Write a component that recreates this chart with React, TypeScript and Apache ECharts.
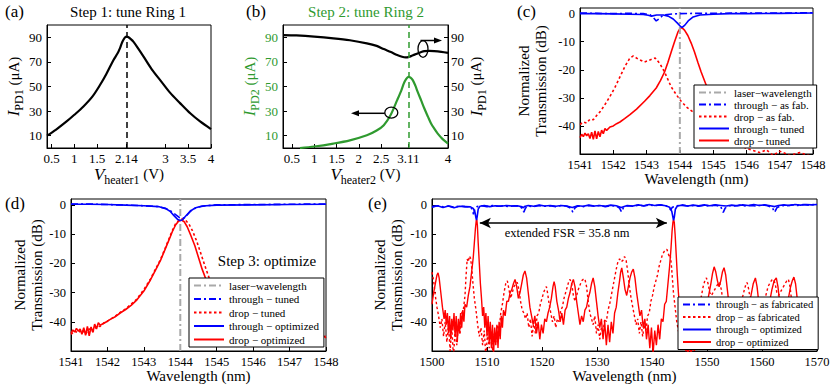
import React, { useEffect, useRef } from "react";
import * as echarts from "echarts";

const FONT = "Liberation Serif, Times New Roman, serif";
const RED = "#ff0000";
const BLUE = "#0000ff";
const GREEN = "#2f9a2f";
const GRAY = "#a9a9a9";

// ---------- (a) Step 1 ----------
const aVoltage = [0.4, 0.6, 0.83, 1.0, 1.2, 1.4, 1.56, 1.7, 1.86, 1.95, 2.0, 2.05, 2.1, 2.14, 2.18, 2.24, 2.3, 2.4, 2.52, 2.7, 2.88, 3.1, 3.32, 3.55, 3.76, 4.0];
const aIpd1 = [10, 15, 21.6, 27, 33.8, 42, 51, 60, 71.6, 77, 81, 86, 89.3, 90.5, 90.2, 88.5, 86.3, 81, 74.3, 64, 55.4, 45, 36.5, 28, 21.6, 15.4];
const aTicksX = [0.5, 1, 1.5, 2.14, 3, 3.5, 4];
const aResonance = 2.14;

// ---------- (b) Step 2 ----------
const bVoltagePd1 = [0.3, 0.6, 1.0, 1.43, 1.8, 2.18, 2.4, 2.56, 2.72, 2.86, 2.97, 3.05, 3.11, 3.17, 3.25, 3.32, 3.4, 3.47, 3.58, 3.69, 3.85, 4.0];
const bIpd1 = [91.8, 91.5, 90.6, 89.2, 87.6, 85.1, 83, 80.4, 78, 75.6, 74.2, 73.7, 73.9, 74.7, 75.9, 76.9, 78, 78.7, 79, 78.8, 78.2, 77.4];
const bVoltagePd2 = [0.68, 1.0, 1.43, 1.8, 2.18, 2.4, 2.56, 2.71, 2.86, 2.95, 3.01, 3.06, 3.11, 3.16, 3.21, 3.27, 3.32, 3.4, 3.47, 3.55, 3.62, 3.7, 3.77, 3.88, 4.0];
const bIpd2 = [0, 1.2, 3.6, 6.2, 10.3, 14.2, 18.5, 26.6, 38.9, 46.5, 52.5, 56, 57.9, 57.3, 55.2, 50.5, 45.6, 38.5, 32.1, 25.5, 19.9, 15.3, 11.7, 7.2, 3.6];
const bTicksX = [0.5, 1, 1.5, 2, 2.5, 3.11, 4];
const bResonance = 3.11;
const currentTicks = [10, 30, 50, 70, 90];
const dbTicks = [-40, -30, -20, -10, 0];
const laserWavelength = 1544;

// ---------- (c) ----------
const cThroughFab = [[1541, 0.2], [1541.5, 0.1], [1542, 0], [1542.5, 0.1], [1542.9, 0], [1543.1, -0.4], [1543.2, -1.3], [1543.29, -2.6], [1543.38, -1.8], [1543.5, -0.5], [1543.7, -0.2], [1544, 0], [1544.5, 0.1], [1545, 0.1], [1546, 0.2], [1547, 0.2], [1548, 0.3]];
const cThroughTuned = [[1541, 0], [1541.5, 0], [1542, -0.1], [1542.5, -0.2], [1542.9, -0.3], [1543.05, -0.6], [1543.15, -0.9], [1543.3, -0.5], [1543.5, -0.5], [1543.65, -0.9], [1543.8, -1.9], [1543.92, -3.3], [1544.02, -4.6], [1544.07, -4.9], [1544.15, -4.1], [1544.25, -2.6], [1544.4, -1.2], [1544.6, -0.5], [1545, -0.2], [1545.5, 0], [1546, 0], [1547, 0.1], [1548, 0.2]];
const cDropFab = [[1541, -39.5], [1541.1, -38.6], [1541.2, -39], [1541.3, -37.6], [1541.4, -37.8], [1541.5, -36.3], [1541.6, -35], [1541.74, -32.6], [1541.9, -29.5], [1542.05, -26.3], [1542.2, -22.5], [1542.35, -18.8], [1542.5, -15.8], [1542.6, -15.1], [1542.75, -16.2], [1542.94, -17.2], [1543.1, -16.5], [1543.26, -15.8], [1543.4, -17.8], [1543.54, -20.8], [1543.74, -26.1], [1543.9, -29], [1544.04, -31.2], [1544.2, -33.3], [1544.39, -35], [1544.6, -37], [1545, -41], [1545.5, -45], [1546, -48], [1546.4, -49.5], [1546.6, -48.5], [1546.8, -50.5], [1547, -49], [1547.3, -50.5], [1547.6, -49.5], [1548, -51]];
const cDropTuned = [[1541, -44.2], [1541.05, -43], [1541.1, -43.8], [1541.15, -42.6], [1541.2, -43.5], [1541.25, -42.8], [1541.3, -44.5], [1541.35, -42.2], [1541.4, -44.8], [1541.45, -41.8], [1541.5, -44.6], [1541.55, -42], [1541.6, -43.9], [1541.65, -41.5], [1541.7, -42.8], [1541.75, -40.9], [1541.8, -41.6], [1541.9, -40.4], [1542.0, -40], [1542.1, -39.2], [1542.2, -38.6], [1542.34, -37.4], [1542.5, -36], [1542.7, -34], [1542.94, -31.2], [1543.1, -29.2], [1543.29, -26.5], [1543.42, -23.8], [1543.54, -20.8], [1543.64, -17.4], [1543.74, -13.7], [1543.84, -10], [1543.94, -6.6], [1544.0, -5.4], [1544.06, -5.0], [1544.14, -5.9], [1544.24, -7.8], [1544.34, -10.5], [1544.44, -13.7], [1544.54, -17.3], [1544.64, -20.8], [1544.79, -25.4], [1545, -30], [1545.5, -35], [1546, -38], [1546.5, -40.5], [1547, -42], [1547.5, -43.2], [1547.8, -44], [1547.85, -42.6], [1547.9, -43.8], [1547.95, -45.5], [1548, -46]];

// ---------- (d) ----------
const dThroughTuned = [[1541, 0.3], [1541.5, 0.3], [1542, 0.1], [1542.5, -0.1], [1543, -0.3], [1543.4, -0.6], [1543.6, -1.2], [1543.75, -2.2], [1543.88, -3.4], [1543.97, -4.3], [1544.05, -4.6], [1544.12, -4.4], [1544.2, -3.3], [1544.3, -1.9], [1544.45, -0.9], [1544.7, -0.3], [1545, 0], [1546, 0.1], [1547, 0.2], [1548, 0.3]];
const dThroughOpt = [[1541, 0.2], [1541.5, 0.2], [1542, 0.1], [1542.5, -0.1], [1543, -0.3], [1543.4, -0.6], [1543.6, -1.3], [1543.72, -2.2], [1543.82, -3.6], [1543.92, -4.9], [1544.0, -5.4], [1544.06, -5.1], [1544.15, -3.8], [1544.27, -2.2], [1544.4, -1.1], [1544.6, -0.4], [1545, -0.1], [1546, 0], [1547, 0.1], [1548, 0.2]];
const dDropTuned = [[1541, -44.3], [1541.1, -43.2], [1541.2, -43.8], [1541.3, -42.6], [1541.4, -44.2], [1541.5, -42.4], [1541.6, -43.4], [1541.7, -41.4], [1541.8, -41.6], [1541.9, -40.4], [1542, -39.8], [1542.2, -38.2], [1542.35, -36.8], [1542.5, -35.6], [1542.65, -34], [1542.81, -32.2], [1543, -29], [1543.18, -25.4], [1543.32, -22], [1543.46, -18.6], [1543.58, -15], [1543.69, -11.6], [1543.78, -8.8], [1543.87, -6.5], [1543.96, -5.3], [1544.05, -4.8], [1544.14, -5.2], [1544.24, -6.6], [1544.34, -9], [1544.45, -12.4], [1544.56, -16.5], [1544.68, -21], [1544.82, -26], [1545, -30.5], [1545.5, -36.5], [1546, -40], [1546.5, -41.8], [1547, -43], [1547.5, -43.8], [1548, -45]];
const dDropOpt = [[1541, -44], [1541.05, -42.8], [1541.1, -43.5], [1541.15, -42.3], [1541.2, -43.2], [1541.25, -42.5], [1541.3, -44.3], [1541.35, -42], [1541.4, -44.6], [1541.45, -41.6], [1541.5, -44.8], [1541.55, -41.8], [1541.6, -43.6], [1541.65, -40.8], [1541.7, -42.5], [1541.75, -40.3], [1541.8, -41.2], [1541.89, -40.6], [1542, -39.8], [1542.1, -39], [1542.2, -38.4], [1542.35, -37], [1542.5, -35.8], [1542.65, -34.4], [1542.81, -32.5], [1543, -29.5], [1543.18, -25.7], [1543.32, -22.3], [1543.46, -18.9], [1543.58, -15.3], [1543.69, -12], [1543.78, -9.2], [1543.87, -6.9], [1543.95, -5.6], [1544.03, -5.2], [1544.11, -5.8], [1544.19, -7.5], [1544.29, -10.5], [1544.4, -14], [1544.5, -18], [1544.6, -22], [1544.75, -27], [1545, -32], [1545.5, -37.5], [1546, -40.5], [1546.5, -42], [1547, -43], [1547.5, -43.5], [1547.8, -43.8], [1547.85, -42.8], [1547.9, -44.5], [1548, -45.5]];

// ---------- (e) ----------
const eThroughFab = [[1500, -0.6], [1501, -0.3], [1502, -0.7], [1503, -0.4], [1504, -0.8], [1505, -0.4], [1506, -0.6], [1507, -0.7], [1507.3, -1.5], [1507.55, -3.2], [1507.8, -1.4], [1508.2, -0.6], [1509, -0.3], [1510, -0.6], [1511, -0.2], [1512, -0.5], [1513, -0.3], [1514, -0.6], [1515, -0.3], [1516, -0.6], [1516.4, -1.2], [1516.7, -2.5], [1517, -1.1], [1517.5, -0.4], [1518.5, -0.6], [1519.5, -0.2], [1520.5, -0.5], [1521.5, -0.3], [1522.5, -0.6], [1523.5, -0.2], [1524.5, -0.5], [1525.2, -1.1], [1525.6, -2.5], [1526, -1.0], [1526.5, -0.4], [1527.5, -0.6], [1528.5, -0.2], [1529.5, -0.5], [1530.5, -0.2], [1531.5, -0.6], [1532.5, -0.3], [1533.5, -0.4], [1534.1, -1.1], [1534.45, -2.4], [1534.8, -1.0], [1535.5, -0.3], [1536.5, -0.5], [1537.5, -0.1], [1538.5, -0.4], [1539.5, 0], [1540.5, -0.3], [1541.5, 0], [1542.5, -0.3], [1543.1, -0.9], [1543.4, -1.8], [1543.7, -0.8], [1544.5, -0.3], [1545.5, -0.1], [1546.5, -0.4], [1547.5, -0.2], [1548.5, -0.5], [1549.5, -0.2], [1550.5, -0.4], [1551.5, -0.1], [1552.5, -0.6], [1552.95, -2.6], [1553.3, -1.1], [1554, -0.3], [1555, -0.4], [1556, -0.1], [1557, -0.4], [1558, -0.2], [1559, -0.4], [1560, 0], [1561, -0.3], [1561.9, -1.0], [1562.3, -2.5], [1562.7, -1.0], [1563.5, -0.2], [1564.5, -0.3], [1565.5, 0], [1566.5, -0.2], [1567.5, 0.1], [1568.5, -0.1], [1569.5, 0.1], [1570, 0]];
const eThroughOpt = [[1500, -0.8], [1501, -0.3], [1502, -0.9], [1503, -0.4], [1504, -1.0], [1505, -0.5], [1506, -0.6], [1507, -0.7], [1507.5, -1.2], [1507.8, -2.4], [1508.0, -4.5], [1508.1, -5.2], [1508.2, -4.2], [1508.4, -1.5], [1508.7, -0.5], [1509.5, -0.2], [1510.5, -0.6], [1511.5, -0.3], [1512.5, -0.5], [1513.5, -0.2], [1514.5, -0.4], [1515.5, -0.3], [1516.4, -0.7], [1516.6, -1.0], [1516.8, -0.6], [1517.5, -0.2], [1518.5, -0.5], [1519.5, -0.1], [1520.5, -0.4], [1521.5, -0.2], [1522.5, -0.5], [1523.5, -0.2], [1524.5, -0.4], [1525.5, -0.9], [1526.5, -0.3], [1527.5, -0.5], [1528.5, -0.1], [1529.5, -0.4], [1530.5, -0.2], [1531.5, -0.5], [1532.5, -0.1], [1533.5, -0.3], [1534.4, -0.9], [1535.5, -0.2], [1536.5, -0.4], [1537.5, 0], [1538.5, -0.3], [1539.5, 0.1], [1540.5, -0.2], [1541.5, 0], [1542.5, -0.3], [1543.2, -0.8], [1543.6, -2.2], [1543.8, -4.2], [1543.92, -5.3], [1544.05, -4.3], [1544.25, -1.5], [1544.6, -0.4], [1545.5, -0.1], [1546.5, -0.4], [1547.5, -0.1], [1548.5, -0.3], [1549.5, 0], [1550.5, -0.3], [1551.5, 0], [1552.5, -0.2], [1553.5, -0.4], [1554.5, -0.1], [1555.5, -0.3], [1556.5, 0], [1557.5, -0.2], [1558.5, 0.1], [1559.5, -0.2], [1560.5, 0], [1561.5, -0.3], [1562.3, -0.6], [1563, -0.2], [1564, 0], [1565, -0.2], [1566, 0.1], [1567, -0.1], [1568, 0.1], [1569, 0], [1570, 0.1]];
const eDropFab = [[1500.0, -23], [1500.3, -26], [1500.6, -31], [1500.9, -35], [1501.2, -38], [1501.5, -42], [1501.8, -39], [1502.1, -45], [1502.4, -40], [1502.7, -47], [1503.0, -41], [1503.3, -50], [1503.6, -42], [1503.9, -52], [1504.2, -43], [1504.5, -48], [1504.8, -41], [1505.1, -44], [1505.4, -37], [1505.7, -36], [1506.0, -31], [1506.2, -24], [1506.4, -18.5], [1506.6, -19.5], [1506.8, -17.5], [1507.0, -18.2], [1507.2, -21], [1507.4, -26], [1507.7, -32], [1508.0, -36], [1508.3, -41], [1508.6, -45], [1508.9, -42], [1509.2, -48], [1509.5, -43], [1509.8, -52], [1510.1, -44], [1510.4, -49], [1510.7, -43], [1511.0, -50], [1511.3, -44], [1511.6, -47], [1511.9, -41], [1512.2, -43], [1512.5, -37], [1512.8, -34], [1513.1, -30], [1513.4, -27], [1513.7, -26], [1514.0, -29], [1514.3, -32], [1514.6, -30], [1514.9, -28], [1515.2, -27], [1515.5, -26.5], [1515.8, -29], [1516.1, -33], [1516.4, -36], [1516.7, -37], [1517.0, -39], [1517.3, -37], [1517.6, -42], [1517.9, -39], [1518.2, -45], [1518.5, -40], [1518.8, -44], [1519.1, -38], [1519.4, -37], [1519.7, -34], [1520.0, -32], [1520.3, -30], [1520.6, -28.5], [1520.8, -28], [1521.0, -30], [1521.3, -34], [1521.6, -37], [1521.9, -40], [1522.2, -38], [1522.5, -42], [1522.8, -39], [1523.1, -40], [1523.4, -36], [1523.7, -35], [1524.0, -32], [1524.3, -30], [1524.6, -28], [1524.9, -26], [1525.1, -25.5], [1525.4, -27], [1525.7, -31], [1526.0, -33], [1526.3, -31], [1526.6, -29], [1526.9, -27.5], [1527.2, -26], [1527.5, -25.5], [1527.8, -25.3], [1528.1, -28], [1528.4, -33], [1528.7, -37], [1529.0, -39], [1529.3, -41], [1529.6, -38], [1529.9, -44], [1530.2, -41], [1530.5, -46], [1530.8, -42], [1531.1, -44], [1531.4, -39], [1531.7, -40], [1532.0, -36], [1532.3, -34], [1532.6, -31], [1532.9, -28], [1533.2, -25], [1533.5, -22], [1533.8, -19.5], [1534.1, -18.5], [1534.4, -19.5], [1534.7, -19], [1535.0, -17.7], [1535.3, -19], [1535.6, -23], [1535.9, -28], [1536.2, -32], [1536.5, -35], [1536.8, -38], [1537.1, -41], [1537.4, -39], [1537.7, -44], [1538.0, -40], [1538.3, -45], [1538.6, -41], [1538.9, -43], [1539.2, -38], [1539.5, -37], [1539.8, -33], [1540.1, -31], [1540.4, -28], [1540.7, -26], [1541.0, -24], [1541.3, -21], [1541.6, -19], [1541.9, -17], [1542.2, -16], [1542.5, -15.5], [1542.7, -15.2], [1542.9, -16.3], [1543.1, -17.5], [1543.3, -17], [1543.5, -20], [1543.7, -25], [1543.9, -30], [1544.2, -35], [1544.5, -40], [1544.8, -43], [1545.1, -46], [1545.4, -49], [1545.7, -47], [1546.0, -52], [1546.3, -48], [1546.6, -51], [1546.9, -46], [1547.2, -48], [1547.5, -43], [1547.8, -44], [1548.1, -40], [1548.4, -37], [1548.7, -34], [1549.0, -31], [1549.3, -28], [1549.6, -26], [1549.9, -25], [1550.2, -27], [1550.5, -30], [1550.8, -31], [1551.1, -30], [1551.4, -29], [1551.7, -28], [1552.0, -27], [1552.3, -26.5], [1552.6, -29], [1552.9, -33], [1553.2, -36], [1553.6, -39], [1554.0, -41], [1554.4, -43], [1554.8, -42], [1555.2, -40], [1555.6, -38], [1556.0, -35], [1556.4, -32], [1556.8, -29], [1557.1, -27], [1557.3, -26.6], [1557.6, -29], [1557.9, -33], [1558.3, -37], [1558.7, -40], [1559.1, -42], [1559.5, -40], [1559.9, -37], [1560.3, -34], [1560.7, -31], [1561.1, -28], [1561.5, -26.5], [1561.8, -25.7], [1562.1, -25.5], [1562.4, -27], [1562.7, -30], [1563.0, -31], [1563.3, -30], [1563.6, -29], [1563.9, -28], [1564.2, -27], [1564.5, -26], [1564.8, -25.5], [1565.1, -28], [1565.4, -33], [1565.8, -38], [1566.2, -41], [1566.6, -44], [1567.0, -46], [1567.4, -43], [1567.8, -48], [1568.2, -45], [1568.6, -49], [1569.0, -44], [1569.4, -47], [1569.8, -43], [1570.0, -45]];
const eDropOpt = [[1500.0, -34], [1500.3, -30], [1500.6, -27], [1500.9, -24], [1501.1, -23.3], [1501.3, -25], [1501.6, -30], [1501.9, -35], [1502.2, -39], [1502.4, -36], [1502.6, -41], [1502.8, -37], [1503.0, -44], [1503.2, -38], [1503.4, -46], [1503.6, -39], [1503.8, -43], [1504.0, -37], [1504.2, -45], [1504.4, -38], [1504.6, -47], [1504.8, -39], [1505.0, -44], [1505.2, -37], [1505.4, -42], [1505.6, -36], [1505.8, -40], [1506.0, -34], [1506.3, -35], [1506.6, -31], [1506.9, -28], [1507.2, -23], [1507.5, -18], [1507.7, -13], [1507.9, -8], [1508.05, -5.3], [1508.15, -5], [1508.25, -7], [1508.4, -13], [1508.6, -20], [1508.8, -27], [1509.0, -32], [1509.2, -38], [1509.4, -35], [1509.6, -42], [1509.8, -37], [1510.0, -45], [1510.2, -38], [1510.4, -47], [1510.6, -40], [1510.8, -49], [1511.0, -41], [1511.2, -51], [1511.4, -42], [1511.6, -48], [1511.8, -41], [1512.0, -49], [1512.2, -40], [1512.4, -46], [1512.6, -38], [1512.8, -42], [1513.0, -36], [1513.3, -38], [1513.6, -33], [1513.9, -33], [1514.2, -30], [1514.5, -29], [1514.8, -27], [1515.1, -25.5], [1515.4, -28], [1515.7, -32], [1516.0, -30], [1516.3, -27], [1516.6, -24], [1516.9, -22.6], [1517.2, -25], [1517.5, -30], [1517.8, -35], [1518.1, -38], [1518.4, -41], [1518.7, -38], [1519.0, -44], [1519.3, -40], [1519.6, -46], [1519.9, -41], [1520.2, -44], [1520.5, -39], [1520.8, -40], [1521.1, -37], [1521.4, -35], [1521.7, -32], [1522.0, -28], [1522.2, -26.3], [1522.4, -28], [1522.7, -33], [1523.0, -36], [1523.3, -40], [1523.6, -37], [1523.9, -41], [1524.2, -36], [1524.5, -35], [1524.8, -32], [1525.1, -30], [1525.4, -27], [1525.7, -25.5], [1526.0, -28], [1526.3, -33], [1526.6, -37], [1526.9, -41], [1527.2, -38], [1527.5, -40], [1527.8, -36], [1528.1, -35], [1528.4, -32], [1528.7, -30], [1529.0, -27], [1529.3, -25], [1529.6, -28], [1529.9, -33], [1530.2, -38], [1530.5, -42], [1530.8, -39], [1531.1, -46], [1531.4, -40], [1531.7, -48], [1532.0, -41], [1532.3, -47], [1532.6, -40], [1532.9, -44], [1533.2, -37], [1533.5, -35], [1533.8, -30], [1534.1, -26], [1534.3, -23], [1534.5, -21.6], [1534.8, -25], [1535.1, -29], [1535.4, -31], [1535.7, -28], [1536.0, -25], [1536.3, -23], [1536.6, -22], [1536.9, -25], [1537.2, -30], [1537.5, -34], [1537.8, -38], [1538.1, -36], [1538.4, -42], [1538.7, -39], [1539.0, -46], [1539.3, -41], [1539.6, -49], [1539.9, -42], [1540.2, -51], [1540.5, -43], [1540.8, -48], [1541.1, -41], [1541.4, -46], [1541.7, -39], [1542.0, -40], [1542.3, -34], [1542.6, -33], [1542.9, -27], [1543.2, -21], [1543.45, -15], [1543.65, -9], [1543.8, -6], [1543.92, -5], [1544.05, -6], [1544.2, -10], [1544.4, -17], [1544.6, -24], [1544.8, -30], [1545.0, -35], [1545.3, -40], [1545.6, -44], [1545.9, -48], [1546.2, -45], [1546.5, -51], [1546.8, -47], [1547.1, -52], [1547.4, -46], [1547.7, -50], [1548.0, -45], [1548.3, -48], [1548.6, -42], [1548.9, -44], [1549.2, -40], [1549.5, -38], [1549.8, -36], [1550.1, -33], [1550.4, -30], [1550.7, -27], [1551.0, -23.5], [1551.3, -21.2], [1551.6, -23], [1551.9, -26], [1552.2, -28], [1552.5, -26], [1552.8, -23], [1553.1, -21.5], [1553.4, -24], [1553.7, -29], [1554.0, -34], [1554.4, -38], [1554.8, -41], [1555.2, -40], [1555.6, -42], [1556.0, -39], [1556.4, -40], [1556.8, -37], [1557.2, -36], [1557.6, -34], [1558.0, -31], [1558.4, -27], [1558.8, -25], [1559.1, -28], [1559.4, -33], [1559.8, -38], [1560.2, -41], [1560.6, -38], [1561.0, -36], [1561.4, -33], [1561.8, -29], [1562.2, -26], [1562.6, -25], [1562.9, -28], [1563.2, -33], [1563.6, -37], [1564.0, -38], [1564.4, -35], [1564.8, -32], [1565.2, -28], [1565.5, -26], [1565.8, -24.7], [1566.1, -27], [1566.4, -32], [1566.8, -38], [1567.2, -41], [1567.6, -44], [1568.0, -47], [1568.4, -44], [1568.8, -49], [1569.1, -45], [1569.4, -42], [1569.7, -46], [1570.0, -44]];
const fsrStart = 1508.7;
const fsrEnd = 1542.7;
const fsrLevel = -6.2;

const legendLabels: Record<string, string> = {
  "c-laser": "laser−wavelength",
  "c-thr-fab": "through − as fab.",
  "c-drop-fab": "drop − as fab.",
  "c-thr-tuned": "through − tuned",
  "c-drop-tuned": "drop − tuned",
  "d-laser": "laser−wavelength",
  "d-thr-tuned": "through − tuned",
  "d-drop-tuned": "drop − tuned",
  "d-thr-opt": "through − optimized",
  "d-drop-opt": "drop − optimized",
  "e-thr-fab": "through − as fabricated",
  "e-drop-fab": "drop − as fabricated",
  "e-thr-opt": "through − optimized",
  "e-drop-opt": "drop − optimized",
};

const DASHDOT = [7, 3, 2, 3];
const DOTTED = [2.5, 2.5];
const plainNumber = (v: number) => String(v);

function zip(xs: number[], ys: number[]) {
  return xs.map((x, i) => [x, ys[i]]);
}

function ln(name: string, xi: number, yi: number, data: any[], color: string, width: number, type: any = "solid", extra: any = {}) {
  return {
    type: "line",
    name,
    xAxisIndex: xi,
    yAxisIndex: yi,
    data,
    symbol: "none",
    showSymbol: false,
    clip: true,
    silent: true,
    lineStyle: { color, width, type },
    itemStyle: { color },
    ...extra,
  };
}

function xAxisBase(gridIndex: number, min: number, max: number, extra: any = {}) {
  return {
    type: "value",
    gridIndex,
    min,
    max,
    axisLine: { show: true, onZero: false, lineStyle: { color: "#000", width: 1 } },
    axisTick: { show: true, inside: true, length: 4, lineStyle: { color: "#000" } },
    splitLine: { show: false },
    axisLabel: { color: "#000", fontFamily: FONT, fontSize: 12.5, margin: 4, formatter: plainNumber },
    nameLocation: "middle",
    nameTextStyle: { fontFamily: FONT, fontSize: 15, color: "#000" },
    ...extra,
  };
}

function yAxisBase(gridIndex: number, min: number, max: number, ticks: number[], extra: any = {}) {
  return {
    type: "value",
    gridIndex,
    min,
    max,
    axisLine: { show: true, onZero: false, lineStyle: { color: "#000", width: 1 } },
    axisTick: { show: true, inside: true, length: 4, lineStyle: { color: "#000" }, customValues: ticks },
    splitLine: { show: false },
    axisLabel: { color: "#000", fontFamily: FONT, fontSize: 12.5, margin: 5, customValues: ticks, formatter: plainNumber },
    nameLocation: "middle",
    nameRotate: 90,
    nameTextStyle: { fontFamily: FONT, fontSize: 15, color: "#000", lineHeight: 17 },
    ...extra,
  };
}

function richSub(color: string) {
  return {
    i: { fontFamily: FONT, fontStyle: "italic", fontSize: 17, color },
    s: { fontFamily: FONT, fontSize: 12, color, padding: [11, 0, 0, 0] },
    n: { fontFamily: FONT, fontSize: 15, color },
  };
}

const gridBox = { show: true, borderColor: "#000", borderWidth: 1, backgroundColor: "transparent", containLabel: false };

const legendBase = {
  orient: "vertical",
  backgroundColor: "#fff",
  borderColor: "#000",
  borderWidth: 1,
  selectedMode: false,
  itemWidth: 30,
  itemHeight: 10,
  itemGap: 1,
  padding: [2, 5, 2, 4],
  itemStyle: { opacity: 0 },
  textStyle: { fontFamily: FONT, fontSize: 11, color: "#000" },
  formatter: (n: string) => legendLabels[n] ?? n,
  z: 10,
};

export default function App() {
  const ref = useRef<HTMLDivElement>(null);
  useEffect(() => {
    if (!ref.current) return;
    const chart = echarts.init(ref.current, null, { renderer: "svg" });
    const option: any = {
      animation: false,
      textStyle: { fontFamily: FONT },
      grid: [
        { ...gridBox, left: 47, top: 25, width: 164, height: 123 },
        { ...gridBox, left: 283, top: 25, width: 165, height: 123 },
        { ...gridBox, left: 580, top: 8, width: 233, height: 146 },
        { ...gridBox, left: 71, top: 199, width: 255, height: 152 },
        { ...gridBox, left: 432, top: 199, width: 385, height: 152 },
      ],
      xAxis: [
        xAxisBase(0, 0.4, 4, {
          axisTick: { show: true, inside: true, length: 4, lineStyle: { color: "#000" }, customValues: aTicksX },
          axisLabel: { color: "#000", fontFamily: FONT, fontSize: 13, margin: 4, customValues: aTicksX, formatter: plainNumber },
          name: "{i|V}{s|heater1}{n| (V)}",
          nameGap: 10,
          nameTextStyle: { rich: richSub("#000") },
        }),
        xAxisBase(1, 0.3, 4, {
          axisTick: { show: true, inside: true, length: 4, lineStyle: { color: "#000" }, customValues: bTicksX },
          axisLabel: { color: "#000", fontFamily: FONT, fontSize: 13, margin: 4, customValues: bTicksX, formatter: plainNumber },
          name: "{i|V}{s|heater2}{n| (V)}",
          nameGap: 10,
          nameTextStyle: { rich: richSub("#000") },
        }),
        xAxisBase(2, 1541, 1548, { interval: 1, name: "Wavelength (nm)", nameGap: 14 }),
        xAxisBase(3, 1541, 1548, { interval: 1, name: "Wavelength (nm)", nameGap: 17 }),
        xAxisBase(4, 1500, 1570, { interval: 10, name: "Wavelength (nm)", nameGap: 17 }),
      ],
      yAxis: [
        yAxisBase(0, 0, 100, currentTicks, {
          axisLabel: { color: "#000", fontFamily: FONT, fontSize: 13, margin: 5, customValues: currentTicks, formatter: plainNumber },
          name: "{i|I}{s|PD1}{n| (μA)}",
          nameGap: 20,
          nameTextStyle: { rich: richSub("#000") },
        }),
        yAxisBase(1, 0, 100, currentTicks, {
          axisLabel: { color: GREEN, fontFamily: FONT, fontSize: 13, margin: 5, customValues: currentTicks, formatter: plainNumber },
          name: "{i|I}{s|PD2}{n| (μA)}",
          nameGap: 17,
          nameTextStyle: { rich: richSub(GREEN) },
        }),
        yAxisBase(1, 0, 100, currentTicks, {
          position: "right",
          axisLabel: { color: "#000", fontFamily: FONT, fontSize: 13, margin: 3, customValues: currentTicks, formatter: plainNumber },
          name: "{i|I}{s|PD1}{n| (μA)}",
          nameGap: 14,
          nameTextStyle: { rich: richSub("#000") },
        }),
        yAxisBase(2, -50, 2, dbTicks, { name: "Normalized\nTransmission (dB)", nameGap: 31 }),
        yAxisBase(3, -50, 2, dbTicks, { name: "Normalized\nTransmission (dB)", nameGap: 26 }),
        yAxisBase(4, -50, 2, dbTicks, { name: "Normalized\nTransmission (dB)", nameGap: 27 }),
      ],
      legend: [
        { ...legendBase, left: 694, top: 85, data: ["c-laser", "c-thr-fab", "c-drop-fab", "c-thr-tuned", "c-drop-tuned"] },
        { ...legendBase, left: 189, top: 278, itemGap: 2.5, data: ["d-laser", "d-thr-tuned", "d-drop-tuned", "d-thr-opt", "d-drop-opt"] },
        {
          ...legendBase,
          left: 678,
          top: 297,
          itemWidth: 28,
          itemGap: 1.5,
          textStyle: { fontFamily: FONT, fontSize: 10.5, color: "#000" },
          data: ["e-thr-fab", "e-drop-fab", "e-thr-opt", "e-drop-opt"],
        },
      ],
      series: [
        ln("a-ipd1", 0, 0, zip(aVoltage, aIpd1), "#000", 2.2, "solid", {
          smooth: 0.3,
          markLine: {
            silent: true,
            symbol: ["none", "none"],
            label: { show: false },
            lineStyle: { color: "#000", width: 1.5, type: [6, 4] },
            data: [{ xAxis: aResonance }],
          },
        }),
        ln("b-ipd1", 1, 2, zip(bVoltagePd1, bIpd1), "#000", 2.2, "solid", { smooth: 0.3 }),
        ln("b-ipd2", 1, 1, zip(bVoltagePd2, bIpd2), GREEN, 2.2, "solid", {
          smooth: 0.3,
          markLine: {
            silent: true,
            symbol: ["none", "none"],
            label: { show: false },
            lineStyle: { color: GREEN, width: 1.5, type: [6, 4] },
            data: [{ xAxis: bResonance }],
          },
        }),
        // (c)
        ln("c-drop-fab", 2, 3, cDropFab, RED, 1.6, DOTTED),
        ln("c-drop-tuned", 2, 3, cDropTuned, RED, 1.6),
        ln("c-laser", 2, 3, [[laserWavelength, -50], [laserWavelength, 2]], GRAY, 2, DASHDOT),
        ln("c-thr-fab", 2, 3, cThroughFab, BLUE, 1.6, DASHDOT),
        ln("c-thr-tuned", 2, 3, cThroughTuned, BLUE, 1.6),
        // (d)
        ln("d-drop-tuned", 3, 4, dDropTuned, RED, 1.6, DOTTED),
        ln("d-drop-opt", 3, 4, dDropOpt, RED, 1.6),
        ln("d-laser", 3, 4, [[laserWavelength, -50], [laserWavelength, 2]], GRAY, 2, DASHDOT),
        ln("d-thr-tuned", 3, 4, dThroughTuned, BLUE, 1.6, DASHDOT),
        ln("d-thr-opt", 3, 4, dThroughOpt, BLUE, 1.6),
        // (e)
        ln("e-drop-fab", 4, 5, eDropFab, RED, 1.4, DOTTED),
        ln("e-drop-opt", 4, 5, eDropOpt, RED, 1.4),
        ln("e-thr-fab", 4, 5, eThroughFab, BLUE, 1.6, DASHDOT),
        ln("e-thr-opt", 4, 5, eThroughOpt, BLUE, 1.6, "solid", {
          markLine: {
            silent: true,
            symbol: ["arrow", "arrow"],
            symbolSize: [8, 11],
            label: { show: false },
            lineStyle: { color: "#000", width: 1.5, type: "solid" },
            data: [[{ coord: [fsrStart, fsrLevel] }, { coord: [fsrEnd, fsrLevel] }]],
          },
        }),
      ],
      graphic: [
        { type: "text", left: 5, top: 3, style: { text: "(a)", font: `17px ${FONT}`, fill: "#000" } },
        { type: "text", left: 246, top: 3, style: { text: "(b)", font: `17px ${FONT}`, fill: "#000" } },
        { type: "text", left: 517, top: 3, style: { text: "(c)", font: `17px ${FONT}`, fill: "#000" } },
        { type: "text", left: 5, top: 195, style: { text: "(d)", font: `17px ${FONT}`, fill: "#000" } },
        { type: "text", left: 368, top: 195, style: { text: "(e)", font: `17px ${FONT}`, fill: "#000" } },
        { type: "text", x: 128, y: 12, style: { text: "Step 1: tune Ring 1", font: `15px ${FONT}`, fill: "#000", align: "center", verticalAlign: "middle" } },
        { type: "text", x: 366, y: 12, style: { text: "Step 2: tune Ring 2", font: `15px ${FONT}`, fill: GREEN, align: "center", verticalAlign: "middle" } },
        { type: "text", x: 267, y: 261, z: 20, style: { text: "Step 3: optimize", font: `15px ${FONT}`, fill: "#000", align: "center", verticalAlign: "middle" } },
        { type: "text", x: 567, y: 233, z: 20, style: { text: "extended FSR = 35.8 nm", font: `12.5px ${FONT}`, fill: "#000", align: "center", verticalAlign: "middle" } },
        // (b) curve-to-axis arrows
        { type: "ellipse", z: 20, shape: { cx: 391.3, cy: 112.7, rx: 6.5, ry: 5.5 }, style: { fill: "none", stroke: "#000", lineWidth: 1.3 } },
        { type: "line", z: 20, shape: { x1: 384.8, y1: 113.3, x2: 357, y2: 113.3 }, style: { stroke: "#000", lineWidth: 1.5 } },
        { type: "polygon", z: 20, shape: { points: [[351, 113.3], [359, 110.3], [359, 116.3]] }, style: { fill: "#000" } },
        { type: "ellipse", z: 20, shape: { cx: 423, cy: 49, rx: 5, ry: 8.3 }, style: { fill: "none", stroke: "#000", lineWidth: 1.3 } },
        { type: "line", z: 20, shape: { x1: 420.5, y1: 40.5, x2: 436, y2: 40.5 }, style: { stroke: "#000", lineWidth: 1.5 } },
        { type: "polygon", z: 20, shape: { points: [[442, 40.5], [434, 37.5], [434, 43.5]] }, style: { fill: "#000" } },
      ],
    };
    chart.setOption(option);
    return () => chart.dispose();
  }, []);
  return <div ref={ref} style={{ position: "absolute", left: 0, top: 0, width: 834, height: 388, background: "#fff" }} />;
}
